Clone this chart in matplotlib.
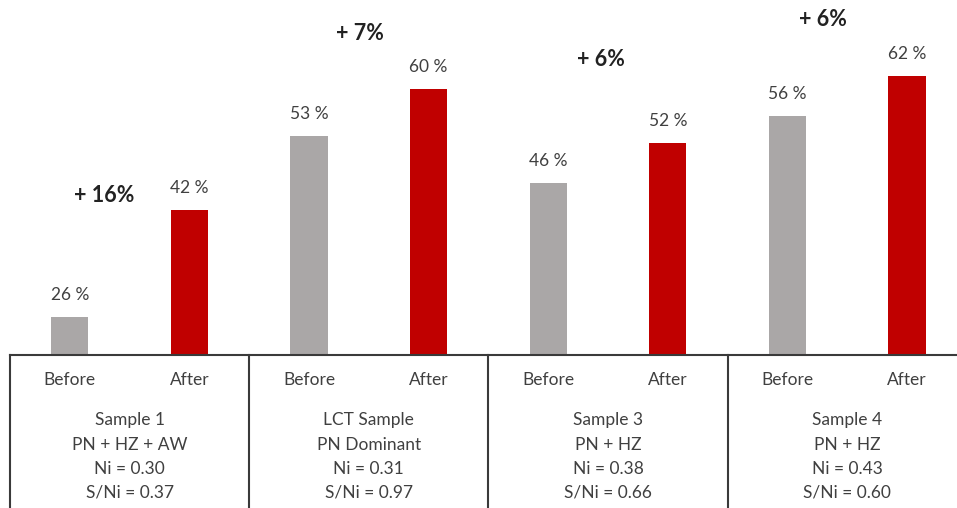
import matplotlib.pyplot as plt
import numpy as np

plt.rcParams['font.family'] = ['Lato', 'DejaVu Sans']

# data
samples = ['Sample 1', 'LCT Sample', 'Sample 3', 'Sample 4']
minerals = ['PN + HZ + AW', 'PN Dominant', 'PN + HZ', 'PN + HZ']
ni = ['0.30', '0.31', '0.38', '0.43']
s_ni = ['0.37', '0.97', '0.66', '0.60']
phases = ['Before', 'After']
before = [26, 53, 46, 56]
after = [42, 60, 52, 62]

# where the "+ x%" notes sit (x in category units, y in axis units)
gain_x = [0.29, 2.43, 4.44, 6.30]
gain_y = [44.2, 68.3, 64.4, 70.4]

grey = '#aaa7a7'
red = '#c00000'
txt = '#404040'

fig = plt.figure(figsize=(9.57, 5.08), dpi=100)
W, H = 957, 508
base_px = 355
ax = fig.add_axes([10 / W, (H - base_px) / H, (W - 10) / W, base_px / H])

y0 = 20.3
n = len(samples)
xb = np.arange(n) * 2
xa = xb + 1
bw = 0.31

ax.bar(xb, np.array(before) - y0, bottom=y0, width=bw, color=grey)
ax.bar(xa, np.array(after) - y0, bottom=y0, width=bw, color=red)

for x, v in zip(np.concatenate([xb, xa]), before + after):
    ax.annotate(f'{v} %', (x, v), xytext=(0, 16), textcoords='offset points',
                ha='center', va='center', fontsize=12.5, color=txt)

for i in range(n):
    ax.text(gain_x[i], gain_y[i], f'+ {after[i] - before[i]}%', ha='center',
            va='center', fontsize=15.5, fontweight='bold', color='#222222')

ax.set_xlim(-0.5, (W - 10) / 119.6 - 0.5)
ax.set_ylim(y0, y0 + base_px / 6.69)
ax.axis('off')

# table below the bars
tr = ax.get_xaxis_transform()
bottom = -(H - base_px) / base_px
lc = '#3a3a3a'
ax.plot([-0.5, 8.5], [0, 0], transform=tr, color=lc, lw=1.5, clip_on=False)
for xv in [-0.5, 1.5, 3.5, 5.5]:
    ax.plot([xv, xv], [0, bottom], transform=tr, color=lc, lw=1.5, clip_on=False)

def ypos(px):
    return -(px - base_px) / base_px

for i in range(n):
    ax.text(xb[i], ypos(380), phases[0], transform=tr, ha='center', va='center',
            fontsize=12.5, color=txt)
    ax.text(xa[i], ypos(380), phases[1], transform=tr, ha='center', va='center',
            fontsize=12.5, color=txt)
    cx = xb[i] + 0.5
    lines = [samples[i], minerals[i], f'Ni = {ni[i]}', f'S/Ni = {s_ni[i]}']
    for py, s in zip([420, 445, 469, 493], lines):
        ax.text(cx, ypos(py), s, transform=tr, ha='center', va='center',
                fontsize=12.5, color=txt)

fig.savefig('out.png', dpi=100)
